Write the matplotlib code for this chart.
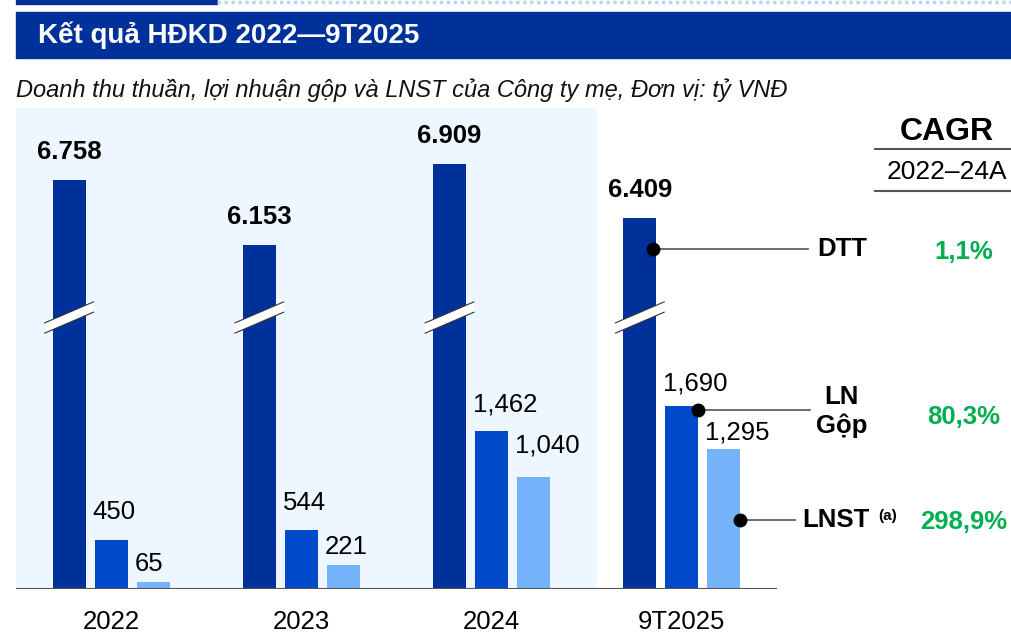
import matplotlib
matplotlib.use("Agg")
from matplotlib import pyplot as plt
from matplotlib.lines import Line2D
from matplotlib.patches import Polygon, Rectangle
import numpy as np

# data (tỷ VNĐ)
categories = ["2022", "2023", "2024", "9T2025"]
dtt = [6758, 6153, 6909, 6409]
ln_gop = [450, 544, 1462, 1690]
lnst = [65, 221, 1040, 1295]
series_names = ["DTT", "LN\nGộp", "LNST"]
cagr = [1.1, 80.3, 298.9]

NAVY = "#00309A"
MID = "#0049CA"
LIGHT = "#75B4FA"
PANEL = "#EEF6FF"
GREEN = "#00B050"

# label lift above bar tops, in pixels (layout only)
ln_lift = [28, 27, 27, 23]
lnst_lift = [18, 18, 31, 17]

W, H = 1011, 633
plt.rcParams["font.family"] = ["Liberation Sans", "DejaVu Sans"]

fig = plt.figure(figsize=(W / 100, H / 100), dpi=100)


def fx(px):
    return px / W


def fy(py):
    return 1 - py / H


# header strip + banner
fig.add_artist(Rectangle((fx(16), fy(4)), fx(217) - fx(16), 4 / H, color=NAVY, transform=fig.transFigure))
fig.add_artist(Line2D([fx(217), 1], [fy(2), fy(2)], color="#C5D3EA", lw=2.5, ls=(0, (1, 1)), transform=fig.transFigure))
fig.add_artist(Rectangle((fx(16), fy(58)), 1 - fx(16), 46 / H, color=NAVY, transform=fig.transFigure))
fig.text(fx(38), fy(35), "Kết quả HĐKD 2022—9T2025", color="white", fontsize=20, fontweight="bold", va="center")
fig.text(fx(16), fy(90), "Doanh thu thuần, lợi nhuận gộp và LNST của Công ty mẹ, Đơn vị: tỷ VNĐ",
         fontsize=17, style="italic", va="center", color="#111111")

# chart axes: 1 data unit on y = 0.108 px
ax = fig.add_axes([fx(16), 44 / H, 761 / W, 481 / H])
ax.set_xlim(-0.5, 3.5)
ax.set_ylim(0, 4454)
ax.axis("off")

DTT_OFFSET = 2970  # broken axis for revenue bars
bw = 0.174
step = 0.221
x = np.arange(len(categories))

ax.axvspan(-0.5, 2.554, color=PANEL, zorder=0, lw=0)

dtt_h = np.array(dtt) - DTT_OFFSET
ax.bar(x - step, dtt_h, bw, color=NAVY, zorder=2)
ax.bar(x, ln_gop, bw, color=MID, zorder=2)
ax.bar(x + step, lnst, bw, color=LIGHT, zorder=2)
ax.axhline(0, color="#555555", lw=1.5, zorder=3)

# break marks on revenue bars
for xi in x - step:
    y0, y1, t = 2417, 2611, 95
    poly = Polygon([[xi - 0.128, y0 - t / 2], [xi + 0.128, y1 - t / 2],
                    [xi + 0.128, y1 + t / 2], [xi - 0.128, y0 + t / 2]],
                   closed=True, facecolor="white", edgecolor="none", zorder=4)
    ax.add_patch(poly)
    for s in (-1, 1):
        ax.plot([xi - 0.128, xi + 0.128], [y0 + s * t / 2, y1 + s * t / 2], color="#333333", lw=0.8, zorder=5)

pt = 72 / 100  # points per pixel
for i in range(len(categories)):
    ax.annotate(f"{dtt[i]:,}".replace(",", "."), (x[i] - step, dtt_h[i]), xytext=(0, 28 * pt),
                textcoords="offset points", ha="center", va="center", fontsize=18.5, fontweight="bold")
    ax.annotate(f"{ln_gop[i]:,}", (x[i] - bw / 2, ln_gop[i]), xytext=(-2 * pt, ln_lift[i] * pt),
                textcoords="offset points", ha="left", va="center", fontsize=18.5)
    ax.annotate(f"{lnst[i]:,}", (x[i] + step - bw / 2, lnst[i]), xytext=(-2 * pt, lnst_lift[i] * pt),
                textcoords="offset points", ha="left", va="center", fontsize=18.5)
    ax.annotate(categories[i], (x[i], 0), xytext=(0, -33 * pt),
                textcoords="offset points", ha="center", va="center", fontsize=18.5)


def px2x(px):
    return (px - 111) / 190.3


# callouts on the last group
last = len(categories) - 1
dots = [
    (x[last] - step + bw / 2 - 0.02, dtt_h[last] * 0.915, 808),
    (x[last] + bw / 2, ln_gop[last] - 28, 810),
    (x[last] + step + bw / 2, lnst[last] * 0.49, 795),
]
for (dx, dy, end) in dots:
    ax.plot([dx, px2x(end)], [dy, dy], color="#555555", lw=1.2, zorder=6, clip_on=False)
    ax.plot(dx, dy, "o", color="black", ms=9, zorder=7, clip_on=False)

ax.text(px2x(817), dots[0][1], series_names[0], ha="left", va="center", fontsize=18.5, fontweight="bold")
ax.text(px2x(842), dots[1][1] - 20, series_names[1], ha="center", va="center", fontsize=18.5,
        fontweight="bold", linespacing=1.25)
ax.text(px2x(802), dots[2][1], series_names[2], ha="left", va="center", fontsize=18.5, fontweight="bold")
ax.text(px2x(878), dots[2][1] + 40, "(a)", ha="left", va="center", fontsize=11, fontweight="bold")

# CAGR column
fig.text(fx(947), fy(132), "CAGR", ha="center", va="center", fontsize=23, fontweight="bold")
fig.add_artist(Line2D([fx(875), 1], [fy(149), fy(149)], color="#555555", lw=1.5, transform=fig.transFigure))
fig.text(fx(947), fy(172), "2022–24A", ha="center", va="center", fontsize=19)
fig.add_artist(Line2D([fx(875), 1], [fy(191), fy(191)], color="#555555", lw=1.5, transform=fig.transFigure))
for val, ypx in zip(cagr, [252, 417, 522]):
    fig.text(fx(964), fy(ypx), f"{val:.1f}%".replace(".", ","), ha="center", va="center",
             fontsize=18.5, fontweight="bold", color=GREEN)

fig.savefig("out.png", dpi=100)
